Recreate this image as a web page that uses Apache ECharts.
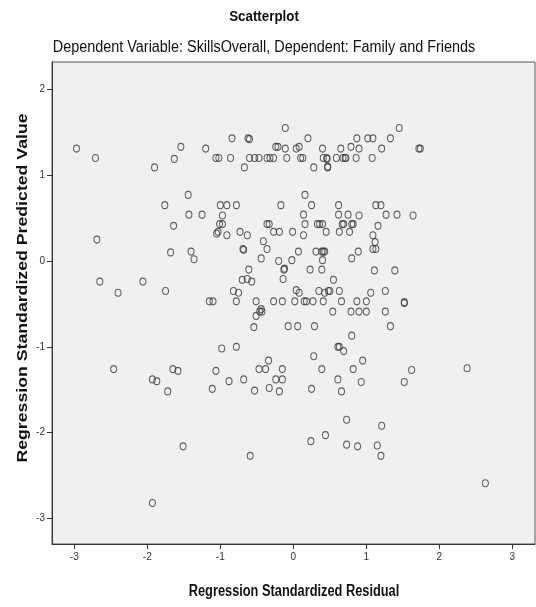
<!DOCTYPE html>
<html>
<head>
<meta charset="utf-8">
<script src="https://cdn.jsdelivr.net/npm/echarts@6/dist/echarts.min.js"></script>
<style>
  html, body { margin: 0; padding: 0; background: #ffffff; }
  #chart { width: 536px; height: 607px; }
</style>
</head>
<body>
<div id="chart"></div>
<script>
// Regression residuals vs. predicted values (standardized)
const residual = [
  -2.97, -2.71, -1.90, -1.63, -1.54, -1.20, -1.06, -1.02, -0.86, -0.84,
  -0.67, -0.62, -0.60, -0.60, -0.53, -0.47, -0.36, -0.32, -0.27, -0.24,
  -0.21, -0.11, -0.11, -0.09, 0.04, 0.08, 0.10, 0.13, 0.20, 0.28,
  0.40, 0.41, 0.46, 0.46, 0.47, 0.47, 0.59, 0.65, 0.68, 0.71,
  0.72, 0.79, 0.86, 0.90, 0.87, 1.02, 1.09, 1.08, 1.21, 1.33,
  1.45, 1.72, 1.74,
  -1.44, -1.76, -1.43, -1.25, -1.64, -2.69, -1.68, -1.40, -1.36, -2.65,
  -2.40, -2.06, -1.75, -1.15, -1.10,
  0.16, -1.00, -0.91, -0.78, -0.17, 0.25, 0.62, 1.13, 1.20,
  -0.97, -1.01, -0.97, -1.05, -1.03, -0.91, -0.73, -0.63, -0.36, -0.33,
  -0.27, -0.19, -0.01, 0.14, 0.16, 0.14, 0.33, 0.36, 0.40, 0.45,
  0.62, 0.75, 0.90, 0.67, 0.69, 0.80, 0.82, 0.63, 0.77,
  1.27, 1.42, 1.64, 1.16, 1.09, 1.12, 1.09, 1.13,
  -0.69, -0.68, -0.41, -0.36, -0.44, 0.07, -0.02, -0.20, -0.13, -0.12,
  -0.14, -0.61, -0.70, -0.63, -0.57, 0.31, 0.39, 0.41, 0.43, 0.40,
  0.23, 0.39, 0.55, 0.89, 0.80, 1.11, 1.39,
  -0.82, -0.75, -0.78, -0.51, -0.27, -0.15, 0.04, 0.08, 0.02, 0.15,
  0.18, 0.27, 0.35, 0.43, 0.48, 0.50, 0.41, 0.63, 0.66, 0.87,
  1.00, 1.06, -0.44, 1.26, 1.52, 1.52,
  -0.51, -0.46, -0.43, -0.54, -0.07, 0.06, 0.29, 0.54, 0.79, 0.90,
  1.00, 0.80, 1.26, 1.33,
  -0.98, -0.78, 0.61, 0.63, 0.69, 0.28, -0.34, -0.47, -0.38, -0.15,
  0.39, 0.82, 0.95, -1.06, -1.11, -0.88, -0.68, -0.53, -0.33, -0.24,
  -0.15, -0.19, 0.25, 0.61, 0.66, 0.93, 1.62, 1.52, 2.38,
  -2.46, -1.93, -1.87, -1.65, -1.58, -1.72,
  0.73, 0.44, 0.24, 0.73, 0.88, 1.15, 1.20, 1.21, -1.51, -0.59,
  2.63, -1.93
];
const predicted = [
  1.31, 1.20, 1.09, 1.19, 1.33, 1.31, 1.20, 1.20, 1.20, 1.43,
  1.09, 1.43, 1.42, 1.20, 1.20, 1.20, 1.20, 1.20, 1.20, 1.33,
  1.33, 1.55, 1.31, 1.20, 1.31, 1.33, 1.20, 1.20, 1.43, 1.09,
  1.31, 1.20, 1.20, 1.19, 1.09, 1.10, 1.20, 1.31, 1.20, 1.20,
  1.20, 1.33, 1.20, 1.31, 1.43, 1.43, 1.43, 1.20, 1.31, 1.43,
  1.55, 1.31, 1.31,
  0.77, 0.65, 0.54, 0.54, 0.41, 0.25, 0.10, 0.11, 0.02, -0.24,
  -0.37, -0.24, -0.35, -0.47, -0.47,
  0.77, 0.65, 0.65, 0.65, 0.65, 0.65, 0.65, 0.65, 0.65,
  0.53, 0.43, 0.43, 0.32, 0.34, 0.30, 0.34, 0.30, 0.43, 0.43,
  0.34, 0.34, 0.34, 0.54, 0.43, 0.30, 0.43, 0.43, 0.43, 0.34,
  0.54, 0.54, 0.53, 0.43, 0.43, 0.43, 0.43, 0.34, 0.34,
  0.54, 0.54, 0.53, 0.41, 0.30, 0.22, 0.14, 0.14,
  0.14, 0.13, 0.23, 0.14, 0.03, 0.11, 0.01, 0.00, -0.10, -0.09,
  -0.21, -0.10, -0.22, -0.21, -0.24, 0.11, 0.11, 0.11, 0.11, 0.01,
  -0.10, -0.10, -0.22, 0.11, 0.03, -0.11, -0.11,
  -0.35, -0.37, -0.47, -0.47, -0.47, -0.47, -0.34, -0.37, -0.47, -0.47,
  -0.47, -0.47, -0.35, -0.37, -0.35, -0.35, -0.47, -0.35, -0.47, -0.47,
  -0.47, -0.37, -0.56, -0.35, -0.49, -0.48,
  -0.64, -0.59, -0.59, -0.77, -0.76, -0.76, -0.76, -0.59, -0.59, -0.59,
  -0.59, -0.87, -0.59, -0.76,
  -1.02, -1.00, -1.00, -1.00, -1.05, -1.11, -1.16, -1.26, -1.26, -1.26,
  -1.26, -1.26, -1.16, -1.28, -1.49, -1.40, -1.38, -1.51, -1.48, -1.38,
  -1.38, -1.52, -1.49, -1.38, -1.52, -1.41, -1.27, -1.41, -1.25,
  -1.26, -1.38, -1.40, -1.26, -1.28, -1.52,
  -1.85, -2.03, -2.10, -2.14, -2.16, -2.15, -2.27, -1.92, -2.16, -2.27,
  -2.59, -2.82
];
const xTicks = [-3, -2, -1, 0, 1, 2, 3];
const yTicks = [-3, -2, -1, 0, 1, 2];

const titleText = 'Scatterplot';
const subtitleText = 'Dependent Variable: SkillsOverall, Dependent: Family and Friends';
const xName = 'Regression Standardized Residual';
const yName = 'Regression Standardized Predicted Value';

const points = residual.map((x, i) => [x, predicted[i]]);

const sans = "'Liberation Sans', Arial, sans-serif";

// Condensed-looking headings: plain text, squeezed horizontally
function label(text, x, y, font, scaleX, rotation) {
  return {
    type: 'text',
    x: x, y: y,
    scaleX: scaleX,
    rotation: rotation || 0,
    silent: true,
    style: {
      text: text,
      font: font,
      fill: '#111',
      align: 'center',
      verticalAlign: 'middle'
    }
  };
}

const chart = echarts.init(document.getElementById('chart'), null, { renderer: 'canvas' });
chart.setOption({
  backgroundColor: '#ffffff',
  animation: false,
  graphic: [
    label(titleText, 264, 17, 'bold 15px ' + sans, 0.89),
    label(subtitleText, 264, 48, '16px ' + sans, 0.90),
    label(xName, 294, 592, 'bold 16px ' + sans, 0.80),
    label(yName, 23, 288, 'bold 15px ' + sans, 1.18, Math.PI / 2)
  ],
  grid: {
    left: 52, right: 1, top: 62, bottom: 63,
    show: true,
    backgroundColor: '#f0f0f0',
    borderColor: '#555',
    borderWidth: 1
  },
  xAxis: {
    type: 'value',
    min: -3.305, max: 3.31,
    axisLine: { show: true, onZero: false, lineStyle: { color: '#333', width: 1 } },
    axisTick: { show: true, length: 5, customValues: xTicks, lineStyle: { color: '#333' } },
    axisLabel: { customValues: xTicks, fontFamily: sans, fontSize: 10, color: '#333', margin: 8 },
    splitLine: { show: false }
  },
  yAxis: {
    type: 'value',
    min: -3.298, max: 2.319,
    axisLine: { show: true, onZero: false, lineStyle: { color: '#333', width: 1 } },
    axisTick: { show: true, length: 5, customValues: yTicks, lineStyle: { color: '#333' } },
    axisLabel: { customValues: yTicks, fontFamily: sans, fontSize: 10, color: '#333', margin: 7 },
    splitLine: { show: false }
  },
  series: [{
    type: 'scatter',
    data: points,
    symbol: 'circle',
    symbolSize: [6, 7],
    itemStyle: { color: 'rgba(0,0,0,0)', borderColor: '#3a3a3a', borderWidth: 1.1 },
    emphasis: { disabled: true }
  }]
});
</script>
</body>
</html>
